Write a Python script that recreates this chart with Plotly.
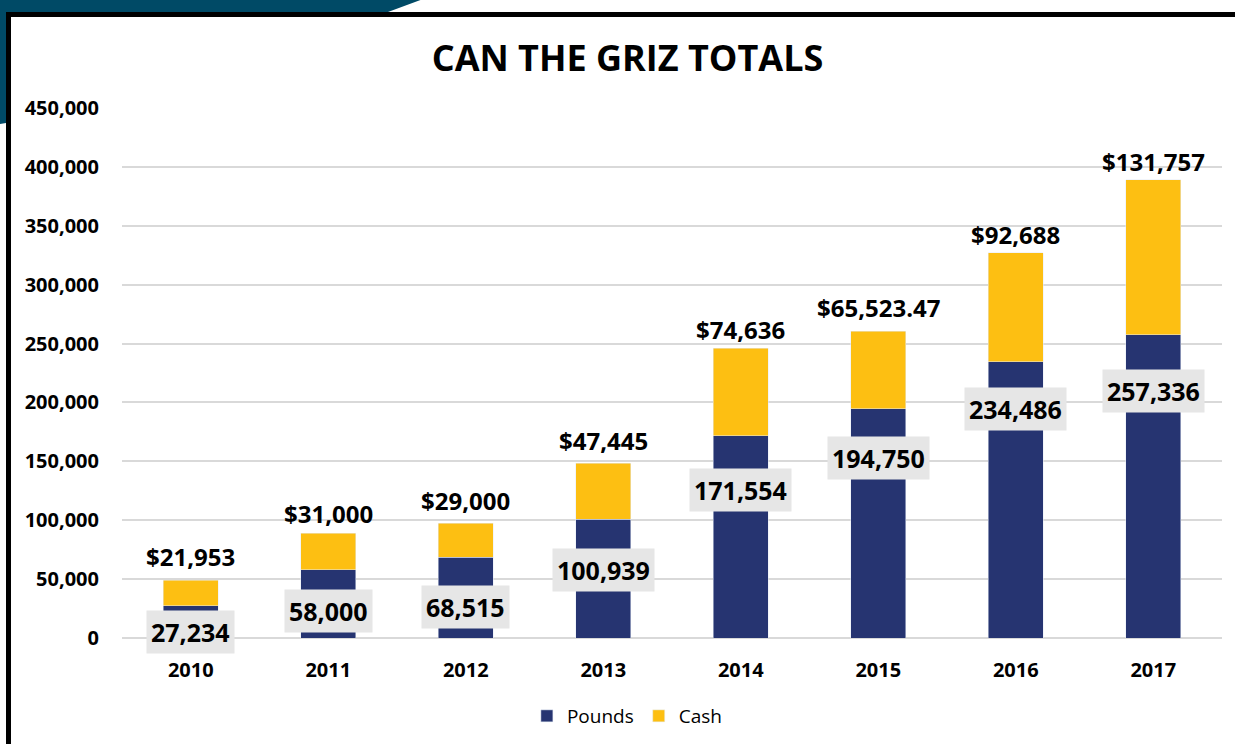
import plotly.graph_objects as go

# ---- data ----
years = ["2010", "2011", "2012", "2013", "2014", "2015", "2016", "2017"]
pounds = [27234, 58000, 68515, 100939, 171554, 194750, 234486, 257336]
cash = [21953, 31000, 29000, 47445, 74636, 65523.47, 92688, 131757]
cash_labels = ["$21,953", "$31,000", "$29,000", "$47,445", "$74,636", "$65,523.47", "$92,688", "$131,757"]
pound_labels = ["27,234", "58,000", "68,515", "100,939", "171,554", "194,750", "234,486", "257,336"]
y_ticks = [0, 50000, 100000, 150000, 200000, 250000, 300000, 350000, 400000, 450000]

# ---- styling / positioning ----
W, H = 1235, 744
ML, MR, MT, MB = 122, 13, 108, 106
NAVY = "#263471"
GOLD = "#fdbf12"
TEAL = "#004a66"
FONT = "Open Sans"
pound_shift = [-26, -41, -50, -51, -54, -49, -47, -56]
cash_shift = [24, 20, 23, 23, 19, 24, 18, 18]

pw, ph = W - ML - MR, H - MT - MB


def px(x):
    return (x - ML) / pw


def py(y):
    return (H - MB - y) / ph


fig = go.Figure()
fig.add_trace(go.Bar(name="Pounds", x=years, y=pounds, marker_color=NAVY))
fig.add_trace(go.Bar(name="Cash", x=years, y=cash, marker_color=GOLD))

totals = [p + c for p, c in zip(pounds, cash)]
annotations = []
for i, yr in enumerate(years):
    annotations.append(dict(
        x=i, y=pounds[i], xref="x", yref="y", text="<b>%s</b>" % pound_labels[i],
        showarrow=False, yshift=pound_shift[i], bgcolor="#e6e6e6", borderpad=4,
        font=dict(family=FONT, size=25, color="black")))
    annotations.append(dict(
        x=i, y=totals[i], xref="x", yref="y", text="<b>%s</b>" % cash_labels[i],
        showarrow=False, yshift=cash_shift[i],
        font=dict(family=FONT, size=24, color="black")))

# decorative frame
teal_path = "M {} {} L {} {} L {} {} L {} {} L {} {} L {} {} Z".format(
    px(-5), py(-5), px(434), py(-5), px(388), py(12), px(6), py(12), px(6), py(123), px(-5), py(125))
shapes = [
    dict(type="path", path=teal_path, xref="paper", yref="paper",
         fillcolor=TEAL, line=dict(width=0), layer="below"),
    dict(type="path", xref="paper", yref="paper", layer="above",
         path="M {} {} L {} {} L {} {}".format(px(8.5), py(760), px(8.5), py(14.5), px(1240), py(14.5)),
         line=dict(color="black", width=5)),
]

fig.update_layout(
    width=W, height=H,
    margin=dict(l=ML, r=MR, t=MT, b=MB),
    barmode="stack", bargap=0.6,
    paper_bgcolor="white", plot_bgcolor="white",
    font=dict(family=FONT, color="black"),
    title=dict(text="<b>CAN THE GRIZ TOTALS</b>", xref="container", x=627.5 / W, xanchor="center",
               yref="container", y=1 - 58 / H, yanchor="middle",
               font=dict(family=FONT, size=36, color="black")),
    legend=dict(orientation="h", xref="container", x=0.508, xanchor="center", yref="container",
                y=1 - 716 / H, yanchor="middle", traceorder="normal",
                font=dict(family=FONT, size=19, color="black"), itemwidth=30),
    annotations=annotations,
    shapes=shapes,
)
fig.update_yaxes(range=[0, 450000], tickvals=y_ticks, tickformat=",d",
                 showgrid=True, gridcolor="#d9d9d9", gridwidth=1.5,
                 zeroline=True, zerolinecolor="#d9d9d9", zerolinewidth=1.5,
                 ticklabelstandoff=22, tickfont=dict(family=FONT, size=20, color="black", weight="bold"))
fig.update_xaxes(type="category", range=[-0.5, len(years) - 0.5], showgrid=False, showline=False,
                 ticklabelstandoff=18,
                 tickfont=dict(family=FONT, size=20, color="black", weight="bold"))

fig.write_html("out.html", config={"displayModeBar": False},
               post_script="document.body.style.margin='0';document.body.style.overflow='hidden';")
